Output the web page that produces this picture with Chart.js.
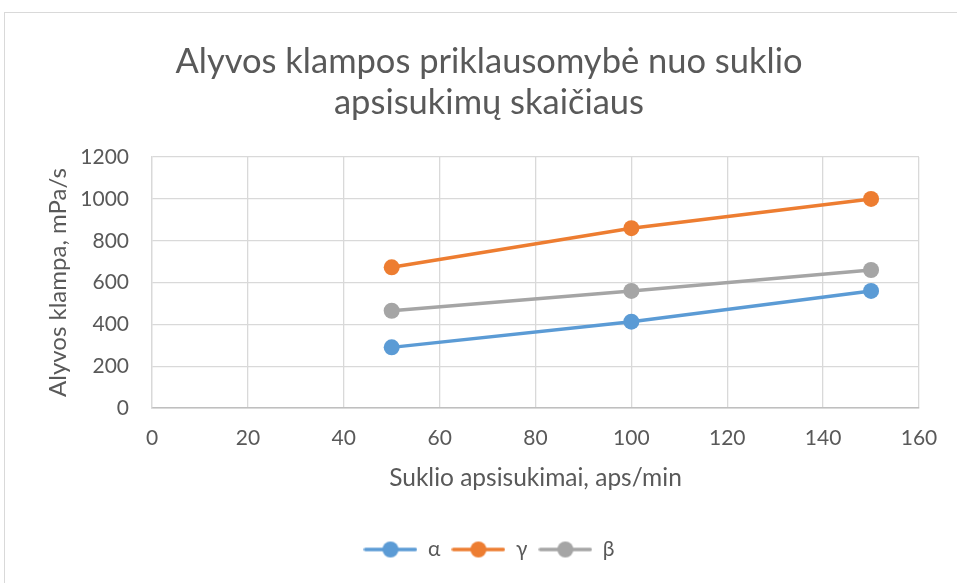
<!DOCTYPE html>
<html>
<head>
<meta charset="utf-8">
<script src="https://cdn.jsdelivr.net/npm/chart.js@4/dist/chart.umd.min.js"></script>
<style>
  html, body { margin: 0; padding: 0; background: #fff; overflow: hidden; }
  #wrap { position: relative; width: 957px; height: 583px; }
  #frame { position: absolute; left: 4px; top: 12px; width: 1000px; height: 1000px; border: 1px solid #d9d9d9; }
  #grafico { position: absolute; left: 0; top: 0; }
</style>
</head>
<body>
<div id="wrap">
  <div id="frame"></div>
  <canvas id="grafico" width="957" height="583"></canvas>
</div>
<script>
// duomenys
const apsisukimai = [50, 100, 150];
const alfa = [290, 413, 560];
const gama = [673, 860, 1000];
const beta = [465, 560, 660];
const serijos = ['α', 'γ', 'β'];
const spalvos = ['#5b9bd5', '#ed7d31', '#a5a5a5'];

const tekstoSpalva = '#595959';
const sriftas = 'Lato, "Open Sans", sans-serif';

// legendos simbolis: linija su tasku
function simbolis(spalva) {
    const c = document.createElement('canvas');
    c.width = 54; c.height = 18;
    const ctx = c.getContext('2d');
    ctx.strokeStyle = spalva;
    ctx.lineWidth = 3.5;
    ctx.lineCap = 'round';
    ctx.beginPath();
    ctx.moveTo(2, 9); ctx.lineTo(52, 9);
    ctx.stroke();
    ctx.fillStyle = spalva;
    ctx.beginPath();
    ctx.arc(27, 9, 8, 0, Math.PI * 2);
    ctx.fill();
    return c;
}

function taskai(reiksmes) {
    return apsisukimai.map((x, i) => ({ x: x, y: reiksmes[i] }));
}

const visosReiksmes = [alfa, gama, beta];

new Chart(document.getElementById('grafico'), {
    type: 'line',
    data: {
        datasets: serijos.map((pav, i) => ({
            label: pav,
            data: taskai(visosReiksmes[i]),
            borderColor: spalvos[i],
            backgroundColor: spalvos[i],
            borderWidth: 3.5,
            pointRadius: 8,
            pointHoverRadius: 8,
            pointBorderWidth: 0,
            fill: false,
            tension: 0
        }))
    },
    options: {
        responsive: false,
        animation: false,
        layout: { padding: { left: 21, right: 0, top: 0, bottom: 13 } },
        plugins: {
            tooltip: { enabled: false },
            title: {
                display: true,
                text: ['Alyvos klampos priklausomybė nuo suklio', 'apsisukimų skaičiaus'],
                color: tekstoSpalva,
                font: { family: sriftas, size: 34.5, weight: 'normal', lineHeight: 1.19 },
                padding: { top: 41.5, bottom: 33.5 }
            },
            legend: {
                position: 'bottom',
                labels: {
                    color: tekstoSpalva,
                    font: { family: sriftas, size: 21 },
                    usePointStyle: true,
                    pointStyleWidth: 54,
                    padding: 11,
                    generateLabels: (chart) => {
                        const items = Chart.defaults.plugins.legend.labels.generateLabels(chart);
                        items.forEach((it, i) => { it.pointStyle = simbolis(spalvos[i]); });
                        return items;
                    }
                }
            }
        },
        scales: {
            x: {
                type: 'linear',
                min: 0, max: 160,
                ticks: { stepSize: 20, color: tekstoSpalva, padding: 18, font: { family: sriftas, size: 21 } },
                grid: { color: '#d9d9d9', lineWidth: 1.3, drawTicks: false },
                border: { color: '#bfbfbf', width: 1.5 },
                title: {
                    display: true,
                    text: 'Suklio apsisukimai, aps/min',
                    color: tekstoSpalva,
                    font: { family: sriftas, size: 24.5 },
                    padding: 35
                },
                afterFit: (s) => { s.height = 120; }
            },
            y: {
                min: 0, max: 1200,
                ticks: {
                    stepSize: 200, color: tekstoSpalva, padding: 23,
                    font: { family: sriftas, size: 21 },
                    callback: (v) => String(v)
                },
                grid: { color: '#d9d9d9', lineWidth: 1.3, drawTicks: false },
                border: { color: '#d9d9d9', width: 1.3 },
                title: {
                    display: true,
                    text: 'Alyvos klampa, mPa/s',
                    color: tekstoSpalva,
                    font: { family: sriftas, size: 24 },
                    padding: 23
                },
                afterFit: (s) => { s.width = 131; }
            },
            // tuscia desine asis, kad braizymo sritis baigtusi ties 919 px
            tarpas: {
                position: 'right',
                display: true,
                ticks: { display: false },
                grid: { display: false, drawTicks: false },
                border: { display: false },
                afterFit: (s) => { s.width = 38; }
            }
        }
    }
});
</script>
</body>
</html>
